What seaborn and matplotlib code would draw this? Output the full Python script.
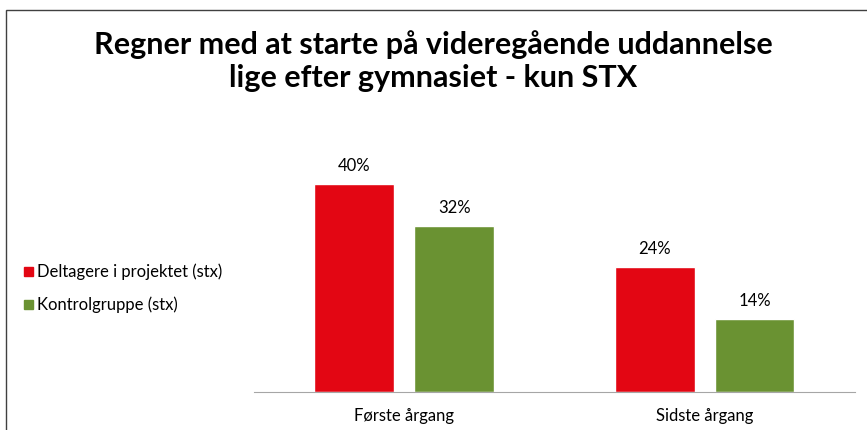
import pandas as pd
import matplotlib.pyplot as plt
import seaborn as sb
from matplotlib.patches import Rectangle

categories = ["Første årgang", "Sidste årgang"]
groups = ["Deltagere i projektet (stx)", "Kontrolgruppe (stx)"]
deltagere = [40, 24]
kontrol = [32, 14]
colors = ["#E30613", "#6A9232"]

df = pd.DataFrame({
    "cat": categories * 2,
    "group": [groups[0]] * 2 + [groups[1]] * 2,
    "value": deltagere + kontrol,
})

sb.set_style("white")
plt.rcParams["font.family"] = ["Lato", "DejaVu Sans"]
plt.rcParams["text.color"] = "black"
plt.rcParams["xtick.color"] = "black"

fig = plt.figure(figsize=(8.67, 4.31), dpi=100)
ax = fig.add_axes([0.293, 0.088, 0.693, 0.603])

sb.barplot(data=df, x="cat", y="value", hue="group", palette=colors,
           width=0.664, gap=0.2, ax=ax, legend=False, saturation=1)

for c in ax.containers:
    ax.bar_label(c, labels=[f"{v:.0f}%" for v in c.datavalues], padding=8, fontsize=12)

ax.set_ylim(0, 50)
ax.set_xlim(-0.5, 1.5)
ax.set_xlabel("")
ax.set_ylabel("")
ax.set_yticks([])
for s in ["top", "right", "left"]:
    ax.spines[s].set_visible(False)
ax.spines["bottom"].set_color("#A6A6A6")
ax.tick_params(axis="x", length=0, labelsize=12, pad=11)

# legend
for i, (g, col) in enumerate(zip(groups, colors)):
    y = 272 + i * 33
    fig.patches.append(Rectangle((24 / 867, (431 - y - 5) / 431), 9 / 867, 9 / 431,
                                 transform=fig.transFigure, color=col))
    fig.text(37 / 867, (431 - y) / 431, g, fontsize=12, va="center", ha="left")

fig.text(0.5, (431 - 45) / 431, "Regner med at starte på videregående uddannelse",
         fontsize=22, fontweight="bold", ha="center", va="center")
fig.text(0.5, (431 - 78) / 431, "lige efter gymnasiet - kun STX",
         fontsize=22, fontweight="bold", ha="center", va="center")

fig.patches.append(Rectangle((6 / 867, -0.1), 1.2, (431 - 11) / 431 + 0.1,
                             transform=fig.transFigure, fill=False,
                             edgecolor="#404040", linewidth=1))

fig.savefig("out.png", dpi=100)
